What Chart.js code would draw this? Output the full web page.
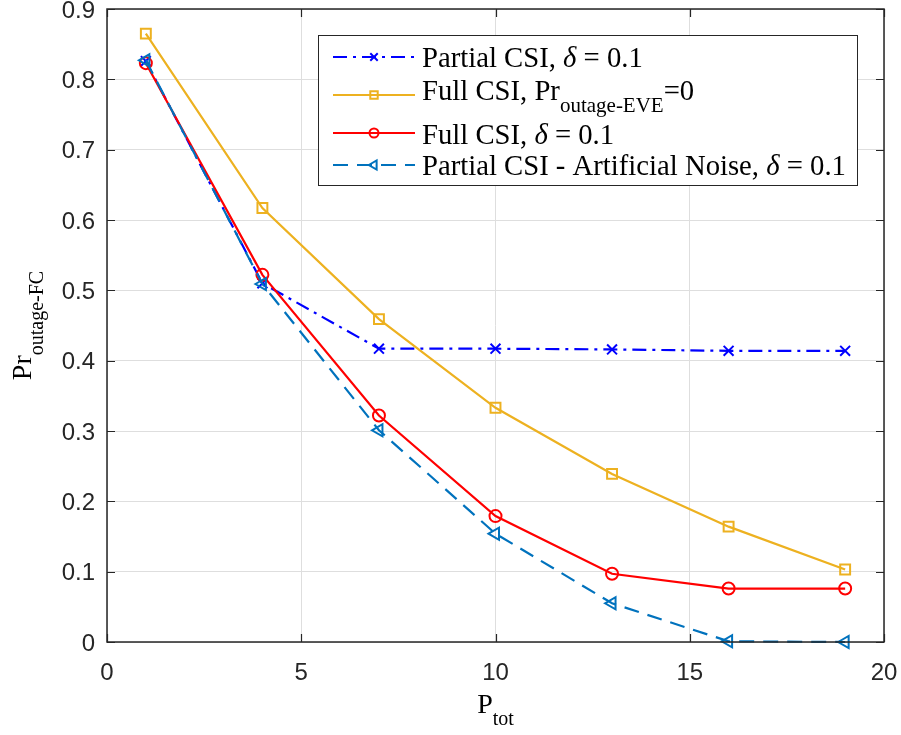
<!DOCTYPE html>
<html>
<head>
<meta charset="utf-8">
<script src="https://cdn.jsdelivr.net/npm/chart.js@4"></script>
<style>
  html, body { margin: 0; padding: 0; background: #fff; }
  #wrap { width: 901px; height: 735px; }
</style>
</head>
<body>
<div id="wrap"><canvas id="outageChart" width="901" height="735"></canvas></div>
<script>
// 送信電力 P_tot
const xValues = [1, 4, 7, 10, 13, 16, 19];
// 各方式の FC 側アウテージ確率
const partialCsi = [0.826, 0.510, 0.417, 0.417, 0.416, 0.414, 0.414];
const fullCsiNoEve = [0.865, 0.617, 0.459, 0.333, 0.239, 0.164, 0.103];
const fullCsi = [0.823, 0.522, 0.322, 0.179, 0.097, 0.076, 0.076];
const partialCsiAn = [0.827, 0.509, 0.301, 0.154, 0.055, 0.001, 0.000];
// 目盛り
const xTicks = [0, 5, 10, 15, 20];
const yTicks = [0, 0.1, 0.2, 0.3, 0.4, 0.5, 0.6, 0.7, 0.8, 0.9];

const SERIF = '"Liberation Serif", "Times New Roman", serif';
const SANS = '"Liberation Sans", Arial, sans-serif';
const AXIS_COLOR = '#262626';

function toPoints(ys) {
    return xValues.map((x, i) => ({ x: x, y: ys[i] }));
}

// 凡例の表示内容（部分ごとにイタリック・下付きを指定）
const legendRows = [
    [{ t: 'Partial CSI, ' }, { t: 'δ', it: true }, { t: ' = 0.1' }],
    [{ t: 'Full CSI, Pr' }, { t: 'outage-EVE', sub: true }, { t: '=0' }],
    [{ t: 'Full CSI, ' }, { t: 'δ', it: true }, { t: ' = 0.1' }],
    [{ t: 'Partial CSI - Artificial Noise, ' }, { t: 'δ', it: true }, { t: ' = 0.1' }]
];

const datasets = [
    {
        label: 'Partial CSI',
        data: toPoints(partialCsi),
        borderColor: '#0000FF',
        borderDash: [14, 6, 3, 6],
        pointStyle: 'crossRot',
        pointRadius: 7,
        order: 3
    },
    {
        label: 'Full CSI, Pr_outage-EVE=0',
        data: toPoints(fullCsiNoEve),
        borderColor: '#EDB120',
        pointStyle: 'rect',
        pointRadius: 7,
        order: 2
    },
    {
        label: 'Full CSI',
        data: toPoints(fullCsi),
        borderColor: '#FF0000',
        pointStyle: 'circle',
        pointRadius: 6,
        order: 1
    },
    {
        label: 'Partial CSI - Artificial Noise',
        data: toPoints(partialCsiAn),
        borderColor: '#0072BD',
        borderDash: [15, 9],
        pointStyle: 'triangle',
        pointRotation: -90,
        pointRadius: 7,
        order: 0
    }
];
datasets.forEach(ds => {
    ds.borderWidth = 2.2;
    ds.pointBorderWidth = 2;
    ds.pointBorderColor = ds.borderColor;
    ds.pointBackgroundColor = 'rgba(0,0,0,0)';
    ds.tension = 0;
    ds.fill = false;
    ds.clip = false;
});

// 書式付きテキストの描画（下付き・イタリック対応）
function drawRich(ctx, parts, x, y, size) {
    let cx = x;
    parts.forEach(p => {
        const fs = p.sub ? Math.round(size * 0.72) : size;
        ctx.font = (p.it ? 'italic ' : '') + fs + 'px ' + SERIF;
        ctx.fillText(p.t, cx, y + (p.sub ? size * 0.42 : 0));
        cx += ctx.measureText(p.t).width;
    });
    return cx - x;
}
function measureRich(ctx, parts, size) {
    let w = 0;
    parts.forEach(p => {
        const fs = p.sub ? Math.round(size * 0.72) : size;
        ctx.font = (p.it ? 'italic ' : '') + fs + 'px ' + SERIF;
        w += ctx.measureText(p.t).width;
    });
    return w;
}

// 枠・内向き目盛り・軸ラベル・凡例を描くプラグイン
const framePlugin = {
    id: 'framePlugin',
    afterDatasetsDraw(chart) {
        const ctx = chart.ctx;
        const area = chart.chartArea;
        const xs = chart.scales.x;
        const ys = chart.scales.y;
        ctx.save();

        // 枠線と目盛り
        ctx.strokeStyle = AXIS_COLOR;
        ctx.lineWidth = 1.5;
        ctx.strokeRect(area.left, area.top, area.right - area.left, area.bottom - area.top);
        ctx.lineWidth = 1.2;
        ctx.beginPath();
        const tl = 8;
        xTicks.forEach(v => {
            const px = Math.round(xs.getPixelForValue(v)) + 0.5;
            ctx.moveTo(px, area.bottom); ctx.lineTo(px, area.bottom - tl);
            ctx.moveTo(px, area.top); ctx.lineTo(px, area.top + tl);
        });
        yTicks.forEach(v => {
            const py = Math.round(ys.getPixelForValue(v)) + 0.5;
            ctx.moveTo(area.left, py); ctx.lineTo(area.left + tl, py);
            ctx.moveTo(area.right, py); ctx.lineTo(area.right - tl, py);
        });
        ctx.stroke();

        // 軸ラベル
        ctx.fillStyle = '#000';
        ctx.textBaseline = 'alphabetic';
        ctx.textAlign = 'left';
        const xLabel = [{ t: 'P' }, { t: 'tot', sub: true }];
        const xw = measureRich(ctx, xLabel, 28);
        drawRich(ctx, xLabel, (area.left + area.right) / 2 - xw / 2, 713, 28);

        const yLabel = [{ t: 'Pr' }, { t: 'outage-FC', sub: true }];
        const yw = measureRich(ctx, yLabel, 28);
        ctx.save();
        ctx.translate(31, (area.top + area.bottom) / 2 + yw / 2);
        ctx.rotate(-Math.PI / 2);
        drawRich(ctx, yLabel, 0, 0, 28);
        ctx.restore();

        // 凡例
        const box = { left: 318.5, top: 35.5, right: 857.5, bottom: 185.5 };
        ctx.fillStyle = '#fff';
        ctx.fillRect(box.left, box.top, box.right - box.left, box.bottom - box.top);
        ctx.strokeStyle = AXIS_COLOR;
        ctx.lineWidth = 1;
        ctx.strokeRect(box.left, box.top, box.right - box.left, box.bottom - box.top);

        const lineY = [57, 95, 133, 165];
        const textY = [67, 100, 144, 175];
        chart.data.datasets.forEach((ds, i) => {
            ctx.save();
            ctx.strokeStyle = ds.borderColor;
            ctx.lineWidth = ds.borderWidth;
            ctx.setLineDash(ds.borderDash || []);
            ctx.beginPath();
            ctx.moveTo(333, lineY[i]);
            ctx.lineTo(415, lineY[i]);
            ctx.stroke();
            ctx.setLineDash([]);
            ctx.lineWidth = ds.pointBorderWidth;
            ctx.fillStyle = ds.pointBackgroundColor;
            Chart.helpers.drawPoint(ctx, {
                pointStyle: ds.pointStyle,
                rotation: ds.pointRotation || 0,
                radius: ds.pointRadius * 0.75,
                borderWidth: ds.pointBorderWidth
            }, 374, lineY[i]);
            ctx.restore();
            ctx.fillStyle = '#000';
            drawRich(ctx, legendRows[i], 422, textY[i], 28.7);
        });

        ctx.restore();
    }
};

new Chart(document.getElementById('outageChart'), {
    type: 'line',
    data: { datasets: datasets },
    plugins: [framePlugin],
    options: {
        responsive: false,
        animation: false,
        layout: { padding: { top: 9, right: 17, left: 0, bottom: 0 } },
        plugins: {
            legend: { display: false },
            tooltip: { enabled: false }
        },
        scales: {
            x: {
                type: 'linear',
                min: 0,
                max: 20,
                afterBuildTicks: scale => { scale.ticks = xTicks.map(v => ({ value: v })); },
                afterFit: scale => {
                    scale.height = 93;
                    scale.paddingLeft = 0;
                    scale.paddingRight = 0;
                },
                grid: { color: '#dedede', lineWidth: 1, drawTicks: false },
                border: { display: false },
                ticks: {
                    padding: 17,
                    color: '#262626',
                    font: { family: SANS, size: 24 },
                    maxRotation: 0,
                    callback: v => String(v)
                }
            },
            y: {
                type: 'linear',
                min: 0,
                max: 0.9,
                afterBuildTicks: scale => { scale.ticks = yTicks.map(v => ({ value: v })); },
                afterFit: scale => {
                    scale.width = 107;
                    scale.paddingTop = 0;
                    scale.paddingBottom = 0;
                },
                grid: { color: '#dedede', lineWidth: 1, drawTicks: false },
                border: { display: false },
                ticks: {
                    padding: 12,
                    labelOffset: 2,
                    color: '#262626',
                    font: { family: SANS, size: 24 },
                    callback: v => (v === 0 ? '0' : v.toFixed(1))
                }
            }
        }
    }
});
</script>
</body>
</html>
